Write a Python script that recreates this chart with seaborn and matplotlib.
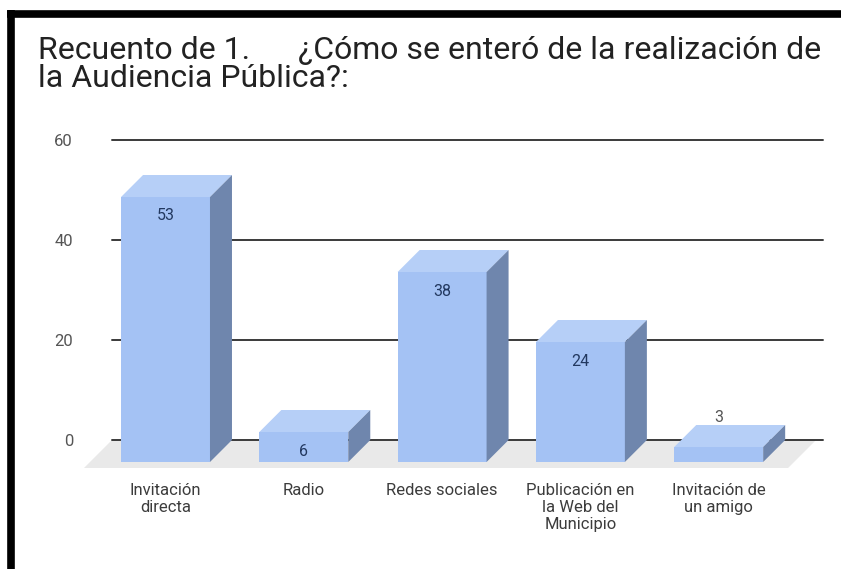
import pandas as pd
import numpy as np
import matplotlib
matplotlib.use('Agg')
import matplotlib.pyplot as plt
import matplotlib.transforms as mtransforms
from matplotlib.patches import Polygon, Rectangle
import seaborn as sns

# data
categorias = ['Invitación\ndirecta', 'Radio', 'Redes sociales',
              'Publicación en\nla Web del\nMunicipio', 'Invitación de\nun amigo']
recuento = [53, 6, 38, 24, 3]
y_ticks = [0, 20, 40, 60]
titulo = 'Recuento de 1.      ¿Cómo se enteró de la realización de\nla Audiencia Pública?:'

df = pd.DataFrame({'cat': categorias, 'n': recuento})

sns.set_style('white')
plt.rcParams['font.family'] = ['Roboto', 'DejaVu Sans']

# colours of the 3d faces
c_front = '#a4c2f4'
c_top = '#b6cff7'
c_side = '#6f86ad'

W, H = 841, 569
fig = plt.figure(figsize=(W / 100, H / 100), dpi=100)
ax = fig.add_axes([112 / W, (H - 440) / H, (823 - 112) / W, 300 / H])

sns.barplot(data=df, x='cat', y='n', color=c_front, saturation=1,
            width=0.643, ax=ax, edgecolor='none', linewidth=0, zorder=2)

ax.set_xlim(-0.546, 4.595)
ax.set_ylim(0, 60)
ax.set_yticks(y_ticks)
ax.set_axisbelow(True)
ax.yaxis.grid(True, color='#3a3a3a', linewidth=1.4)
ax.xaxis.grid(False)
for l in ax.get_ygridlines():
    l.set_clip_on(False)
for s in ax.spines.values():
    s.set_visible(False)
ax.set_xlabel('')
ax.set_ylabel('')
ax.set_xticks(range(len(categorias)))
ax.set_xticklabels([])
ax.tick_params(axis='y', length=0, pad=28, labelsize=12, labelcolor='#555555')
ax.tick_params(axis='x', length=0)

d = 22  # depth of the bars, pixels
d_floor = 28
pt = 72 / 100  # pixels -> points
inv = ax.transData.inverted()
shift = mtransforms.ScaledTranslation(-d / 100, -d / 100, fig.dpi_scale_trans)

bars = [p for p in ax.patches if isinstance(p, Rectangle) and p.get_height() > 0]

# floor
x_l, x_r = ax.get_xlim()
(fx0, fy0), (fx1, _) = ax.transData.transform([(x_l, 0), (x_r - 0.05, 0)])
floor = [(fx0, fy0), (fx1, fy0), (fx1 - d_floor, fy0 - d_floor), (fx0 - d_floor, fy0 - d_floor)]
ax.add_patch(Polygon(inv.transform(floor), closed=True, facecolor='#e9e9e9',
                     edgecolor='none', zorder=0.3, clip_on=False))

for p, v in zip(bars, recuento):
    p.set_transform(ax.transData + shift)
    p.set_clip_on(False)
    x0, w, h = p.get_x(), p.get_width(), p.get_height()
    (bx0, by0), (bx1, by1) = ax.transData.transform([(x0, 0), (x0 + w, h)])
    top = [(bx0 - d, by1 - d), (bx1 - d, by1 - d), (bx1, by1), (bx0, by1)]
    side = [(bx1 - d, by1 - d), (bx1, by1), (bx1, by0), (bx1 - d, by0 - d)]
    ax.add_patch(Polygon(inv.transform(top), closed=True, facecolor=c_top,
                         edgecolor='none', zorder=2, clip_on=False))
    ax.add_patch(Polygon(inv.transform(side), closed=True, facecolor=c_side,
                         edgecolor='none', zorder=2, clip_on=False))
    cx = x0 + w / 2
    if v >= 5:
        ax.annotate(str(v), xy=(cx, v), xytext=(-d * pt, -(d + 19) * pt),
                    textcoords='offset points', ha='center', va='center',
                    fontsize=11.5, color='#22385f', zorder=3, annotation_clip=False)
    else:
        ax.annotate(str(v), xy=(cx, v), xytext=(-d * pt, 8 * pt),
                    textcoords='offset points', ha='center', va='center',
                    fontsize=11.5, color='#555555', zorder=3, annotation_clip=False)

# category labels under the front faces
for i, c in enumerate(categorias):
    ax.annotate(c, xy=(i, 0), xytext=(-d * pt, -43 * pt), textcoords='offset points',
                ha='center', va='top', fontsize=12, color='#3c3c3c',
                linespacing=1.15, annotation_clip=False)

fig.text(38 / W, 1 - 36 / H, titulo, ha='left', va='top', fontsize=23,
         color='#222222', linespacing=0.97)

# black frame of the screenshot
fig.add_artist(plt.Line2D([7 / W, 1], [1 - 13.5 / H, 1 - 13.5 / H], color='black',
                          linewidth=5.5, solid_capstyle='butt', transform=fig.transFigure))
fig.add_artist(plt.Line2D([11 / W, 11 / W], [0, 1 - 10 / H], color='black',
                          linewidth=5.5, solid_capstyle='butt', transform=fig.transFigure))

fig.savefig('out.png', dpi=100)
